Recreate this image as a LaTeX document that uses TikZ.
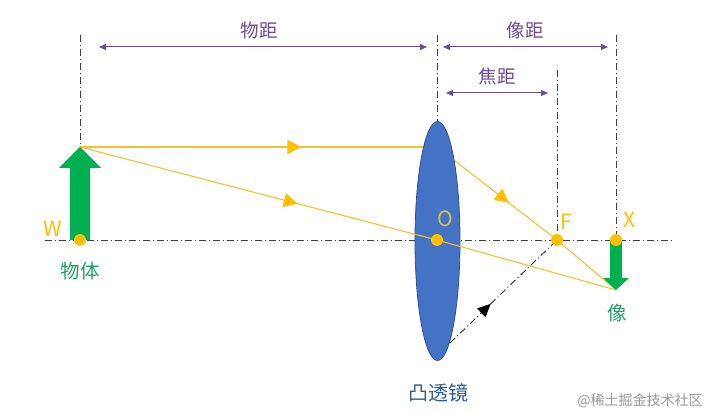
\documentclass[tikz,border=0pt]{standalone}
\usepackage{fontspec}
\setmainfont{Noto Sans CJK SC}
\usetikzlibrary{arrows.meta,decorations.markings,shapes.geometric}
\definecolor{raycol}{HTML}{F2C230}
\definecolor{dotcol}{HTML}{FFC000}
\definecolor{grn}{HTML}{00B050}
\definecolor{grntxt}{HTML}{20A068}
\definecolor{lensfill}{HTML}{4472C4}
\definecolor{lensdraw}{HTML}{2F528F}
\definecolor{lenstxt}{HTML}{2E5E92}
\definecolor{dimcol}{HTML}{6A4C93}
\definecolor{axiscol}{HTML}{404040}
\definecolor{olabel}{HTML}{D8BE50}
\begin{document}
\begin{tikzpicture}[x=1pt,y=-1pt,
  dashdot/.style={draw=axiscol,line width=0.7pt,dash pattern=on 7pt off 3pt on 1pt off 3pt},
  rayline/.style={draw=raycol,line width=1.1pt},
  midarrow/.style={postaction={decorate},decoration={markings,
     mark=at position #1 with {\arrow{Triangle[length=14pt,width=14pt,color=dotcol]}}}},
  blkarrow/.style={postaction={decorate},decoration={markings,
     mark=at position #1 with {\arrow{Triangle[length=13pt,width=12pt,color=black]}}}},
  dimline/.style={draw=dimcol,line width=1pt,{Triangle[length=7pt,width=6pt]}-{Triangle[length=7pt,width=6pt]}},
  dimlbl/.style={text=dimcol,font=\fontsize{18.5}{20}\selectfont,inner sep=0pt},
  grnlbl/.style={text=grntxt,font=\fontsize{19.5}{21}\selectfont,inner sep=0pt},
  ptlbl/.style={text=dotcol,font=\fontsize{21}{23}\selectfont,inner sep=0pt},
  ptdot/.style={circle,fill=dotcol,minimum size=12pt,inner sep=0pt},
  bigarrow/.style={fill=grn,draw=none}
]
\useasboundingbox[fill=white] (0,0) rectangle (712,414);

% key points
\coordinate (W) at (80,240);
\coordinate (O) at (437,240);
\coordinate (F) at (557,240);
\coordinate (X) at (616,240);
\coordinate (objtip) at (80,147);
\coordinate (imgtip) at (616,290);
\coordinate (lenshit) at (437,147);
\coordinate (axL) at (45,240);
\coordinate (axR) at (675,240);
\coordinate (blkstart) at (450,343);

% vertical guide lines
\coordinate (vW) at (80,35);
\coordinate (vO) at (437,35);
\coordinate (vOb) at (437,121);
\coordinate (vF) at (557,70);
\coordinate (vX) at (616,35);
\draw[dashdot] (vW) -- (objtip);
\draw[dashdot] (vO) -- (vOb);
\draw[dashdot] (vF) -- (F);
\draw[dashdot] (vX) -- (X);

% optical axis
\draw[dashdot] (axL) -- (axR);

% dimension arrows
\coordinate (d1a) at (99,47);
\coordinate (d1b) at (427,47);
\coordinate (d2a) at (443,47);
\coordinate (d2b) at (608,47);
\coordinate (d3a) at (446,93);
\coordinate (d3b) at (548,93);
\draw[dimline] (d1a) -- (d1b);
\draw[dimline] (d2a) -- (d2b);
\draw[dimline] (d3a) -- (d3b);
\node[dimlbl] (wuju) at (259,30) {物距};
\node[dimlbl] (xiangju) at (525,30) {像距};
\node[dimlbl] (jiaoju) at (497,76) {焦距};

% ray 1 (parallel, then through F)
\draw[rayline,midarrow=0.62] (objtip) -- (lenshit);
\draw[rayline,midarrow=0.6] (lenshit) -- (F);
\draw[rayline] (F) -- (imgtip);

% dashed black ray
\draw[dashdot,draw=black,blkarrow=0.38] (blkstart) -- (F);

% lens
\node[ellipse,fill=lensfill,draw=lensdraw,line width=0.8pt,minimum width=45pt,minimum height=239pt,inner sep=0pt] (lens) at (437.5,241) {};

% ray 2 (through O)
\draw[rayline,midarrow=0.61] (objtip) -- (O);
\draw[rayline] (O) -- (imgtip);

% object arrow
\fill[bigarrow] (70,240) -- (70,168) -- (59,168) -- (objtip) -- (101,168) -- (90,168) -- (90,240) -- cycle;
% image arrow
\fill[bigarrow] (610,240) -- (610,278) -- (603,278) -- (imgtip) -- (629,278) -- (622,278) -- (622,240) -- cycle;

% points
\node[ptdot] (Wd) at (W) {};
\node[ptdot] (Od) at (O) {};
\node[ptdot] (Fd) at (F) {};
\node[ptdot] (Xd) at (X) {};

% labels
\node[ptlbl] (Wl) at (53,229) {W};
\node[ptlbl,text=olabel] (Ol) at (445,219) {O};
\node[ptlbl] (Fl) at (566,222) {F};
\node[ptlbl] (Xl) at (630,220) {X};
\node[grnlbl] (wuti) at (80,271) {物体};
\node[grnlbl] (xiang) at (617,313) {像};
\node[text=lenstxt,font=\fontsize{20}{22}\selectfont,inner sep=0pt] (tj) at (438,393) {凸透镜};
\node[text=black!40,font=\fontsize{14}{16}\selectfont,inner sep=0pt] (wm) at (640,401) {@稀土掘金技术社区};
\end{tikzpicture}
\end{document}
